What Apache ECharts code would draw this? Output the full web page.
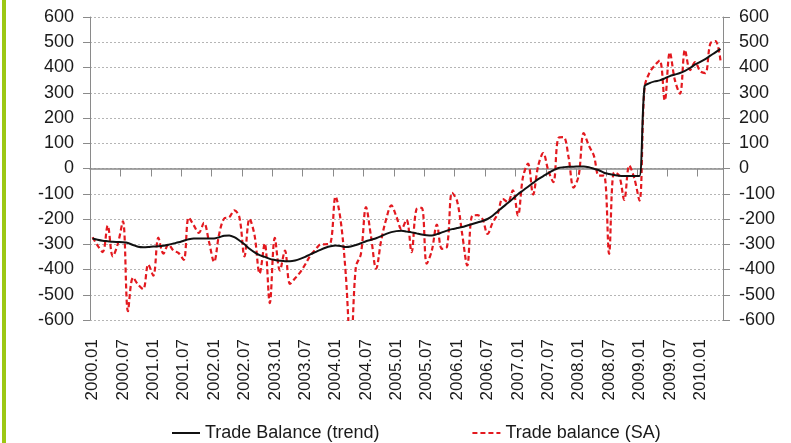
<!DOCTYPE html>
<html>
<head>
<meta charset="utf-8">
<script src="https://cdn.jsdelivr.net/npm/echarts@6/dist/echarts.min.js"></script>
<style>
html,body{margin:0;padding:0;background:#fff;}
#chart{width:791px;height:443px;}
</style>
</head>
<body>
<div id="chart"></div>
<script>
// Months 2000.01 .. 2010.05
const startYear = 2000;
const monthCount = 125;
const categories = [];
for (let i = 0; i < monthCount; i++) {
  const y = startYear + Math.floor(i / 12);
  const m = (i % 12) + 1;
  categories.push(y + '.' + (m < 10 ? '0' + m : '' + m));
}

const trendName = 'Trade Balance (trend)';
const saName = 'Trade balance (SA)';

const trendValues = [
  -277,-282,-286,-288,-290,-291,-292,-295,-303,-310,
  -312,-311,-309,-308,-306,-302,-297,-292,-286,-280,
  -277,-277,-277,-277,-277,-272,-266,-265,-272,-285,
  -300,-318,-332,-343,-350,-358,-362,-365,-367,-367,
  -364,-358,-350,-340,-331,-322,-314,-308,-305,-307,
  -311,-309,-303,-296,-288,-282,-276,-268,-259,-252,
  -248,-247,-250,-253,-257,-261,-264,-265,-260,-253,
  -246,-240,-236,-232,-226,-220,-214,-208,-200,-187,
  -170,-153,-137,-120,-102,-87,-72,-57,-42,-30,
  -18,-7,2,5,7,7,8,8,5,-1,
  -7,-17,-22,-26,-29,-30,-30,-30,-30,325,
  338,345,349,357,366,372,378,387,398,412,
  422,433,447,460,474
];

const saValues = [
  -272,-305,-331,-226,-348,-298,-209,-565,-432,-460,
  -478,-380,-424,-274,-337,-301,-325,-335,-362,-194,
  -225,-255,-215,-290,-370,-260,-198,-193,-166,-193,
  -348,-199,-265,-416,-297,-533,-275,-404,-325,-457,
  -435,-411,-380,-345,-322,-301,-300,-295,-111,-206,
  -417,-720,-390,-338,-153,-270,-397,-285,-200,-146,
  -190,-240,-203,-331,-160,-156,-377,-325,-222,-318,
  -310,-96,-130,-260,-384,-186,-185,-200,-259,-215,
  -180,-120,-133,-87,-186,-34,19,-103,10,61,
  -8,-54,121,124,45,-76,-28,140,91,51,
  -28,-28,-338,-15,-28,-124,12,-40,-127,320,
  380,408,428,269,460,350,296,470,390,421,
  385,378,495,505,428
];

const yMin = -600, yMax = 600, yStep = 100;
const font = "'Liberation Sans', Arial, sans-serif";
const axisGray = '#8a8a8a';
const textColor = '#1a1a1a';

const chart = echarts.init(document.getElementById('chart'), null, {renderer: 'canvas'});

const yAxisBase = {
  type: 'value', min: yMin, max: yMax, interval: yStep,
  axisLine: {show: true, lineStyle: {color: axisGray, width: 1}},
  axisTick: {show: true, length: 7, lineStyle: {color: axisGray}},
  axisLabel: {fontSize: 18, color: textColor, fontFamily: font, margin: 16, showMinLabel: true, showMaxLabel: true, hideOverlap: false}
};

chart.setOption({
  animation: false,
  backgroundColor: '#ffffff',
  textStyle: {fontFamily: font},
  graphic: [{
    type: 'rect', left: 2, top: 0,
    shape: {width: 4, height: 443},
    style: {fill: '#9cc814'}
  }],
  grid: {left: 90, right: 68, top: 17, bottom: 123, containLabel: false, outerBoundsMode: 'none'},
  legend: {
    left: 166, top: 419,
    itemGap: 92, itemWidth: 28, itemHeight: 12,
    itemStyle: {color: 'rgba(0,0,0,0)', borderColor: 'rgba(0,0,0,0)', borderWidth: 0},
    textStyle: {fontSize: 18, color: textColor, fontFamily: font},
    data: [trendName, saName]
  },
  xAxis: [
    {
      // zero line with ticks
      type: 'category', data: categories, boundaryGap: true, position: 'top',
      axisLine: {onZero: true, lineStyle: {color: axisGray, width: 1.5}},
      axisTick: {show: true, inside: true, interval: 5, length: 8, lineStyle: {color: axisGray}},
      axisLabel: {show: false},
      splitLine: {show: false}
    },
    {
      // month labels along the bottom
      type: 'category', data: categories, boundaryGap: true, position: 'bottom',
      axisLine: {show: false, onZero: false},
      axisTick: {show: false},
      axisLabel: {interval: 5, rotate: 90, margin: 19, fontSize: 17, color: textColor, fontFamily: font, hideOverlap: false},
      splitLine: {show: false}
    }
  ],
  yAxis: [
    Object.assign({}, yAxisBase, {
      position: 'left',
      splitLine: {show: true, lineStyle: {color: '#b5b5b5', width: 1, type: [2, 2]}}
    }),
    Object.assign({}, yAxisBase, {
      position: 'right',
      splitLine: {show: false}
    })
  ],
  series: [
    {
      name: trendName, type: 'line', data: trendValues, xAxisIndex: 0, yAxisIndex: 0,
      symbol: 'none', smooth: 0.3, z: 3,
      lineStyle: {color: '#111111', width: 2},
      itemStyle: {color: '#111111'}
    },
    {
      name: saName, type: 'line', data: saValues, xAxisIndex: 0, yAxisIndex: 0,
      symbol: 'none', smooth: 0.35, z: 2,
      lineStyle: {color: '#e3191f', width: 2.2, type: [5, 3]},
      itemStyle: {color: '#e3191f'}
    }
  ]
});
</script>
</body>
</html>
